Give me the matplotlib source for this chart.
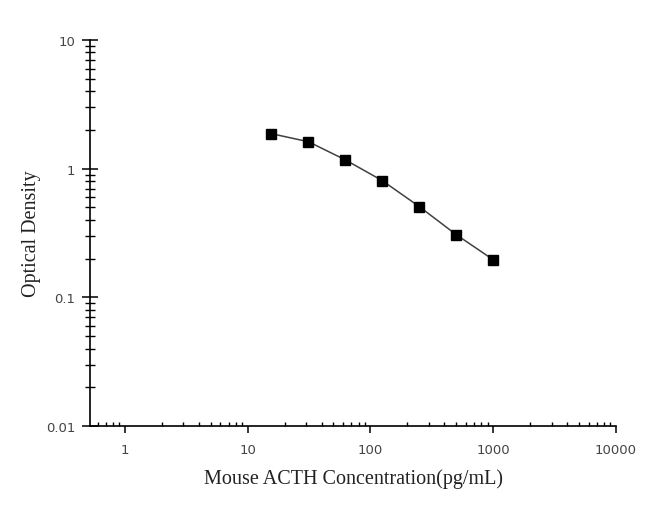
import numpy as np
import matplotlib.pyplot as plt
from matplotlib.ticker import LogLocator, FixedLocator, NullFormatter

# Standard curve values
conc = [15.6, 31.25, 62.5, 125, 250, 500, 1000]
od = [1.87, 1.62, 1.17, 0.807, 0.507, 0.307, 0.196]

x_ticks = [1, 10, 100, 1000, 10000]
x_labels = ["1", "10", "100", "1000", "10000"]
y_ticks = [0.01, 0.1, 1, 10]
y_labels = ["0.01", "0.1", "1", "10"]

fig = plt.figure(figsize=(6.5, 5.1), dpi=100)
ax = fig.add_axes([0.1385, 0.1627, 0.8092, 0.7569])

ax.plot(conc, od, color="#404040", linewidth=1.1, marker="s",
        markersize=6.5, markerfacecolor="black", markeredgecolor="black")

ax.set_xscale("log")
ax.set_yscale("log")
ax.set_xlim(0.52, 10000)
ax.set_ylim(0.01, 10)

ax.xaxis.set_major_locator(FixedLocator(x_ticks))
ax.set_xticklabels(x_labels)
ax.xaxis.set_minor_locator(LogLocator(base=10, subs=np.arange(2, 10)))
ax.xaxis.set_minor_formatter(NullFormatter())
ax.yaxis.set_major_locator(FixedLocator(y_ticks))
ax.set_yticklabels(y_labels)
ax.yaxis.set_minor_locator(LogLocator(base=10, subs=np.arange(2, 10)))
ax.yaxis.set_minor_formatter(NullFormatter())

for s in ["top", "right"]:
    ax.spines[s].set_visible(False)
for s in ["left", "bottom"]:
    ax.spines[s].set_linewidth(1.2)
    ax.spines[s].set_color("black")

ax.tick_params(axis="x", which="major", direction="out", length=5, width=1.1,
               labelsize=9.5, pad=7, colors="black")
ax.tick_params(axis="x", which="minor", direction="in", length=3, width=1.0)
ax.tick_params(axis="y", which="major", direction="inout", length=11, width=1.1,
               labelsize=9.5, pad=5, colors="black")
ax.tick_params(axis="y", which="minor", direction="inout", length=7, width=1.0)
for lab in ax.get_xticklabels() + ax.get_yticklabels():
    lab.set_color("#444444")

ax.set_xlabel("Mouse ACTH Concentration(pg/mL)", family="Liberation Serif",
              fontsize=14.5, color="#222222", labelpad=9)
ax.set_ylabel("Optical Density", family="Liberation Serif",
              fontsize=14.5, color="#222222", labelpad=4)

fig.savefig("out.png", dpi=100)
